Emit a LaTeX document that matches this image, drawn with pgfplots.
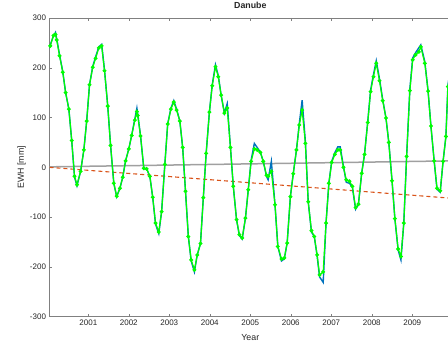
\documentclass[border=0pt]{standalone}
\usepackage{pgfplots}
\pgfplotsset{compat=1.18}
\usepackage{pgfplotstable}
\usepackage{fontspec}
\setmainfont{Liberation Sans}
\definecolor{txt}{HTML}{262626}
\definecolor{axl}{HTML}{808080}
\definecolor{mblue}{HTML}{0072BD}
\definecolor{morange}{HTML}{D95319}
\definecolor{mgreen}{HTML}{00FF00}
\definecolor{mgray}{HTML}{A0A0A0}
\pgfplotstableread{
x v
2000.03 239
2000.06 244
2000.14 265
2000.19 267
2000.22 256
2000.29 224
2000.37 191
2000.44 150
2000.52 117
2000.59 54
2000.66 -18
2000.72 -35
2000.81 -8
2000.89 35
2000.96 93
2001.03 166
2001.11 201
2001.18 219
2001.26 240
2001.33 244
2001.40 194
2001.48 123
2001.55 44
2001.63 -32
2001.70 -58
2001.78 -42
2001.85 -20
2001.92 13
2002.00 37
2002.07 64
2002.15 95
2002.20 112
2002.22 104
2002.29 63
2002.37 -2
2002.44 -3
2002.52 -18
2002.59 -60
2002.66 -112
2002.74 -130
2002.81 -89
2002.89 6
2002.96 87
2003.04 117
2003.11 131
2003.18 115
2003.26 93
2003.33 40
2003.40 -48
2003.47 -139
2003.54 -186
2003.62 -206
2003.69 -176
2003.77 -153
2003.84 -61
2003.91 28
2003.99 111
2004.06 164
2004.14 202
2004.21 182
2004.28 145
2004.36 109
2004.43 119
2004.51 40
2004.58 -38
2004.66 -105
2004.73 -135
2004.80 -142
2004.88 -102
2004.95 -45
2005.02 12
2005.10 37
2005.17 35
2005.25 30
2005.32 12
2005.40 -16
2005.44 -18
2005.52 -8
2005.61 -75
2005.68 -159
2005.77 -184
2005.84 -182
2005.91 -152
2005.99 -59
2006.06 -13
2006.14 35
2006.21 85
2006.28 115
2006.36 48
2006.43 -69
2006.51 -127
2006.58 -139
2006.65 -176
2006.71 -216
2006.80 -210
2006.87 -112
2006.94 -32
2007.01 10
2007.09 26
2007.16 35
2007.22 35
2007.30 0
2007.37 -25
2007.45 -28
2007.52 -38
2007.60 -81
2007.67 -74
2007.75 -12
2007.82 26
2007.90 90
2007.97 152
2008.04 182
2008.11 209
2008.19 174
2008.27 134
2008.35 99
2008.42 50
2008.50 -27
2008.57 -103
2008.65 -164
2008.72 -179
2008.79 -112
2008.86 22
2008.94 154
2009.01 216
2009.08 226
2009.16 232
2009.21 242
2009.31 209
2009.39 153
2009.46 83
2009.54 13
2009.61 -42
2009.69 -47
2009.76 12
2009.83 62
2009.88 162
2009.96 205
}\green
\pgfplotstableread{
x v
2000.03 239
2000.06 246
2000.14 264
2000.19 271
2000.22 258
2000.29 226
2000.37 192
2000.44 150
2000.52 117
2000.59 54
2000.66 -20
2000.72 -37
2000.81 -8
2000.89 35
2000.96 93
2001.03 166
2001.11 203
2001.18 222
2001.26 242
2001.33 247
2001.40 196
2001.48 123
2001.55 44
2001.63 -32
2001.70 -59
2001.78 -42
2001.85 -20
2001.92 13
2002.00 37
2002.07 64
2002.15 98
2002.20 119
2002.22 108
2002.29 63
2002.37 -2
2002.44 -3
2002.52 -18
2002.59 -60
2002.66 -114
2002.74 -133
2002.81 -89
2002.89 6
2002.96 87
2003.04 119
2003.11 134
2003.18 117
2003.26 93
2003.33 40
2003.40 -48
2003.47 -139
2003.54 -188
2003.62 -210
2003.69 -176
2003.77 -153
2003.84 -61
2003.91 28
2003.99 111
2004.06 166
2004.14 206
2004.21 184
2004.28 145
2004.36 109
2004.43 128
2004.51 40
2004.58 -38
2004.66 -105
2004.73 -137
2004.80 -144
2004.88 -102
2004.95 -45
2005.02 14
2005.10 48
2005.17 40
2005.25 30
2005.32 12
2005.40 -18
2005.44 -25
2005.52 12
2005.61 -75
2005.68 -159
2005.77 -188
2005.84 -184
2005.91 -152
2005.99 -59
2006.06 -13
2006.14 35
2006.21 88
2006.28 135
2006.36 52
2006.43 -69
2006.51 -130
2006.58 -139
2006.65 -178
2006.71 -220
2006.80 -231
2006.87 -112
2006.94 -32
2007.01 12
2007.09 30
2007.16 41
2007.22 41
2007.30 2
2007.37 -30
2007.45 -32
2007.52 -40
2007.60 -84
2007.67 -74
2007.75 -12
2007.82 26
2007.90 92
2007.97 155
2008.04 186
2008.11 214
2008.19 178
2008.27 136
2008.35 99
2008.42 50
2008.50 -27
2008.57 -103
2008.65 -166
2008.72 -186
2008.79 -112
2008.86 22
2008.94 158
2009.01 220
2009.08 230
2009.16 240
2009.21 246
2009.31 212
2009.39 153
2009.46 83
2009.54 13
2009.61 -44
2009.69 -50
2009.76 12
2009.83 62
2009.88 165
2009.96 208
}\blue
\begin{document}
\begin{tikzpicture}
\useasboundingbox (0pt,0pt) rectangle (448pt,342pt);
\begin{axis}[
  at={(49.5pt,25.3pt)}, anchor=south west,
  scale only axis, width=401.6pt, height=298.7pt,
  xmin=2000.0417, xmax=2009.9583, ymin=-300, ymax=300,
  xtick={2001,2002,...,2009}, ytick={-300,-200,...,300},
  xticklabel style={/pgf/number format/1000 sep={}},
  /pgf/number format/assume math mode=true,
  tick label style={font=\fontsize{8}{9}\selectfont, text=txt},
  tick align=inside, major tick length=3pt,
  every tick/.style={axl, line width=0.5pt},
  axis line style={axl, line width=0.6pt},
  title={\textbf{Danube}},
  title style={font=\fontsize{8.8}{10}\selectfont, text=txt, at={(axis description cs:0.5,1)}, anchor=center, yshift=6.3pt},
  xlabel={Year}, ylabel={EWH [mm]},
  xlabel style={font=\fontsize{8.8}{10}\selectfont, text=txt, at={(axis description cs:0.5,0)}, anchor=center, yshift=-20.6pt},
  every axis y label/.style={font=\fontsize{8.8}{10}\selectfont, text=txt, at={(axis description cs:0,0.5)}, anchor=center, xshift=-27.8pt, rotate=90},
]
\addplot[mgray, line width=1.5pt] coordinates {(2000.0417,1) (2009.9583,13)};
\addplot[morange, line width=1.1pt, dash pattern=on 4pt off 3pt] coordinates {(2000.0417,0) (2009.9583,-62)};
\addplot[mblue, line width=1.4pt] table[x=x,y=v] {\blue};
\addplot[mgreen, line width=1.2pt, mark=*, mark size=1.3pt, mark options={fill=mgreen, draw=mgreen}] table[x=x,y=v] {\green};
\end{axis}
\end{tikzpicture}
\end{document}
